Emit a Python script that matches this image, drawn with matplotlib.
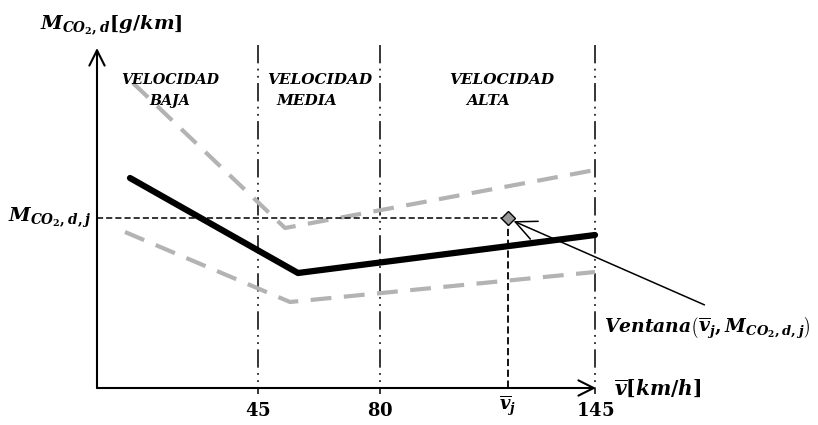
import matplotlib
matplotlib.use("Agg")
import matplotlib.pyplot as plt
from matplotlib.patches import FancyArrowPatch

# bold italic serif for all math text (the original uses Cambria Math)
plt.rcParams["mathtext.fontset"] = "custom"
plt.rcParams["mathtext.it"] = "DejaVu Serif:italic:bold"
plt.rcParams["mathtext.rm"] = "DejaVu Serif:bold"
plt.rcParams["mathtext.bf"] = "DejaVu Serif:bold"

# schematic diagram, coordinates in diagram units (x right, y down)
ORIGIN = (97, 388)
Y_TOP = 48
X_END = 596

# speed zone boundaries and their tick labels
zone_x = [258, 380, 595]
zone_labels = ["45", "80", "145"]

# zone titles: (first line, second line)
zone_line1 = ["VELOCIDAD", "VELOCIDAD", "VELOCIDAD"]
zone_line2 = ["BAJA", "MEDIA", "ALTA"]
zone_line1_x = [170, 320, 502]
zone_line2_x = [170, 307, 488]
zone_size = [10.3, 11, 11]

# emission curves vs speed
mean_x = [130, 298, 595]
mean_y = [178, 273, 235]
upper_x = [133, 285, 595]
upper_y = [83, 228, 170]
lower_x = [125, 290, 595]
lower_y = [232, 302, 272]

# the chosen window point
vj_x = 508
mj_y = 218

fig = plt.figure(figsize=(8.18, 4.25), dpi=100)
ax = fig.add_axes([0, 0, 1, 1])
ax.set_xlim(0, 818)
ax.set_ylim(425, 0)
ax.axis("off")

# axes with chevron arrows
head = "->,head_length=11,head_width=5.5"
ax.add_patch(FancyArrowPatch((ORIGIN[0], ORIGIN[1]), (ORIGIN[0], Y_TOP),
                             arrowstyle=head, mutation_scale=1, lw=1.5,
                             color="black", shrinkA=0, shrinkB=0))
ax.add_patch(FancyArrowPatch((ORIGIN[0], ORIGIN[1]), (X_END, ORIGIN[1]),
                             arrowstyle=head, mutation_scale=1, lw=1.5,
                             color="black", shrinkA=0, shrinkB=0))

# zone boundaries (dash-dot-dot)
for x in zone_x:
    ax.plot([x, x], [45, 394], color="black", lw=1.1,
            dashes=(12, 3.5, 1.2, 3.5, 1.2, 3.5))
for x, lab in zip(zone_x, zone_labels):
    ax.text(x, 411, "$\\mathrm{%s}$" % lab,
            ha="center", va="center", fontsize=13)

for x1, x2, l1, l2, fs in zip(zone_line1_x, zone_line2_x, zone_line1,
                              zone_line2, zone_size):
    ax.text(x1, 80, l1, ha="center", va="center", fontsize=fs,
            family="DejaVu Serif", weight="bold", style="italic")
    ax.text(x2, 101, l2, ha="center", va="center", fontsize=fs,
            family="DejaVu Serif", weight="bold", style="italic")

# curves
ax.plot(upper_x, upper_y, color="#b3b3b3", lw=3, dashes=(5, 3))
ax.plot(lower_x, lower_y, color="#b3b3b3", lw=3, dashes=(5, 3))
ax.plot(mean_x, mean_y, color="black", lw=4.5, solid_capstyle="round")

# window point guides
ax.plot([ORIGIN[0], vj_x], [mj_y, mj_y], color="black", lw=1.1, dashes=(4, 2))
ax.plot([vj_x, vj_x], [mj_y, ORIGIN[1]], color="black", lw=1.3, dashes=(4, 2))
ax.plot([vj_x], [mj_y], marker="D", ms=7, mfc="#9a9a9a", mec="black",
        mew=1, zorder=5)

arrow = FancyArrowPatch((707, 306), (511, 220),
                        arrowstyle="->,head_length=15,head_width=7",
                        mutation_scale=1, lw=1.1, color="black")
ax.add_patch(arrow)

# labels
ax.text(40, 25, r"$M_{CO_2,d}[g/km]$", ha="left", va="center", fontsize=14)
ax.text(8, 218, r"$M_{CO_2,d,j}$", ha="left", va="center", fontsize=14)
ax.text(614, 388, r"$\overline{v}[km/h]$", ha="left", va="center", fontsize=14.5)
ax.text(vj_x, 406, r"$\overline{v}_j$", ha="center", va="center", fontsize=13)
ax.text(604, 328, r"$Ventana\left(\overline{v}_j,M_{CO_2,d,j}\right)$",
        ha="left", va="center", fontsize=13.5)

fig.savefig("out.png", dpi=100)
